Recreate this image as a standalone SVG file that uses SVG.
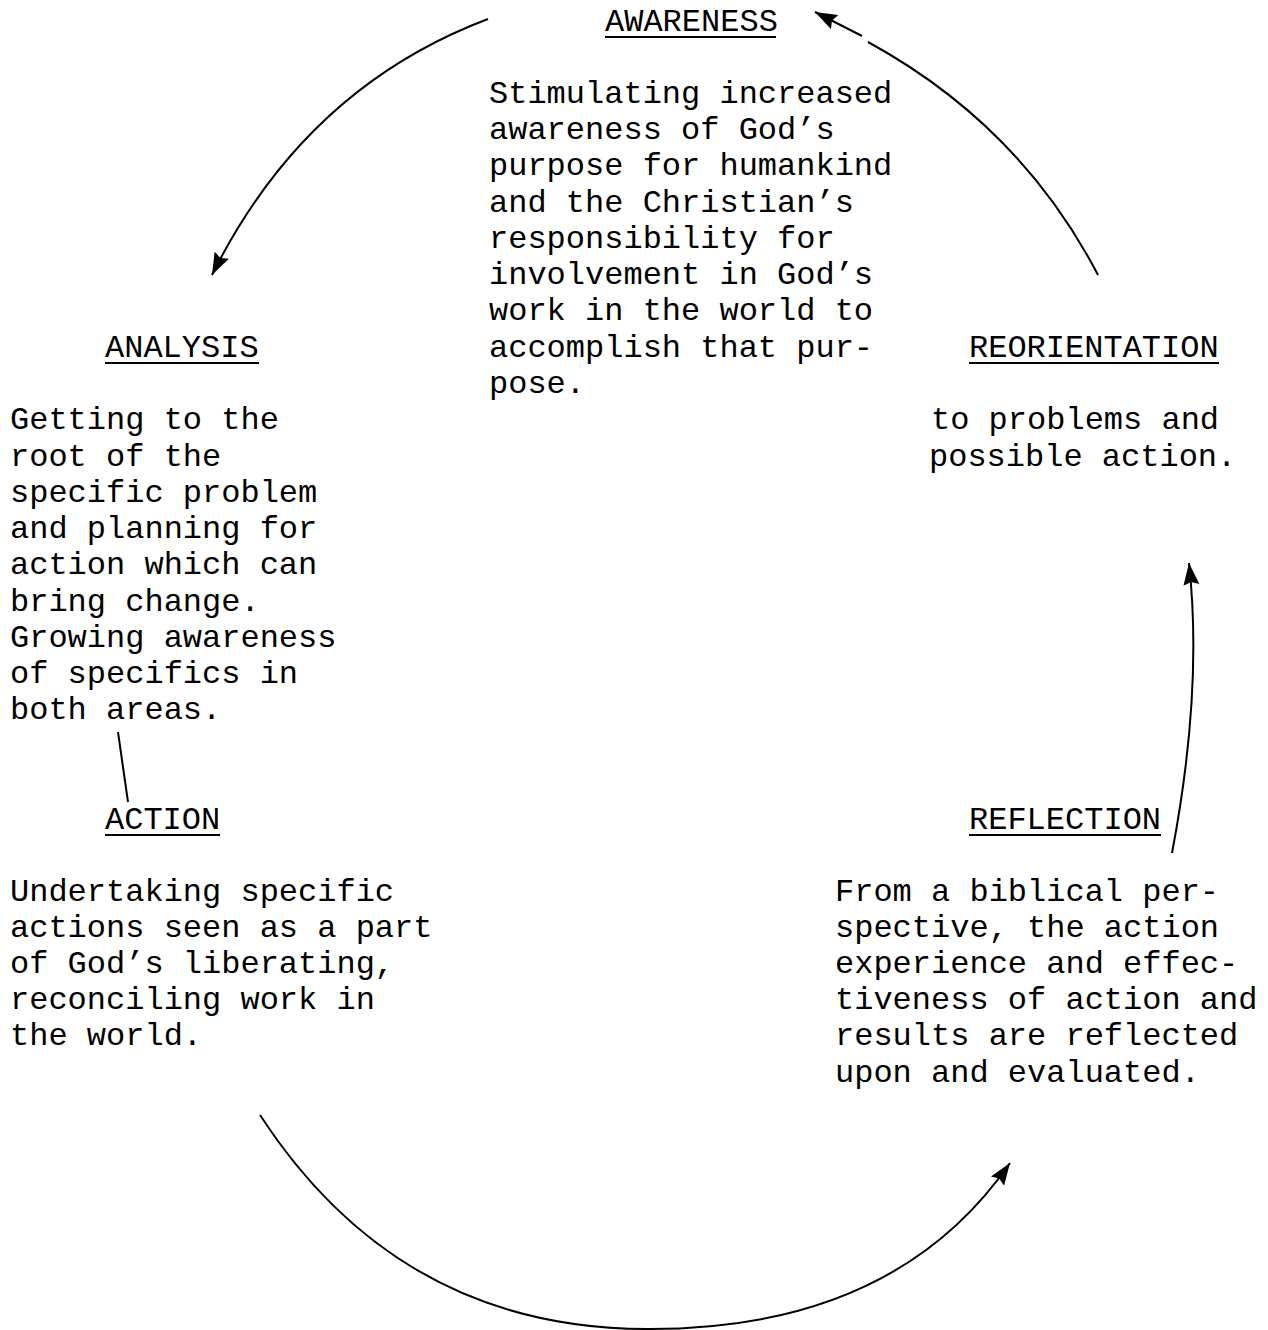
<svg xmlns="http://www.w3.org/2000/svg" width="1268" height="1330" viewBox="0 0 1268 1330">
<defs>
<style>
text { font-family: "Liberation Mono", "Courier New", monospace; font-size: 32px; fill: #000; }
.ul { stroke: #000; stroke-width: 2; }
.conn { fill: none; stroke: #000; stroke-width: 2; }
</style>
<marker id="arr" markerUnits="userSpaceOnUse" markerWidth="26" markerHeight="18" refX="22" refY="8" orient="auto">
<path d="M0,0 L22,8 L0,16 L3,8 Z" fill="#000"/>
</marker>
</defs>
<rect width="1268" height="1330" fill="#fff"/>
<g id="connectors">
<path class="conn" d="M488,19 Q305,88 212,275" marker-end="url(#arr)"/>
<path class="conn" d="M1098,275 Q1020,125 868,42"/>
<path class="conn" d="M862,36 L815,12" marker-end="url(#arr)"/>
<path class="conn" d="M1172,853 Q1203,690 1189,563" marker-end="url(#arr)"/>
<path class="conn" d="M260,1115 Q400,1330 650,1329 Q895,1329 1010,1163" marker-end="url(#arr)"/>
<path class="conn" d="M118,732 L128,802"/>
</g>
<g id="awareness">
<text x="605" y="31">AWARENESS</text>
<line class="ul" x1="605" y1="37" x2="776" y2="37"/>
<text x="489" y="103">Stimulating increased</text>
<text x="489" y="139">awareness of God’s</text>
<text x="489" y="175">purpose for humankind</text>
<text x="489" y="212">and the Christian’s</text>
<text x="489" y="248">responsibility for</text>
<text x="489" y="284">involvement in God’s</text>
<text x="489" y="320">work in the world to</text>
<text x="489" y="357">accomplish that pur-</text>
<text x="489" y="393">pose.</text>
</g>
<g id="analysis">
<text x="105" y="357">ANALYSIS</text>
<line class="ul" x1="105" y1="363" x2="259" y2="363"/>
<text x="10" y="429">Getting to the</text>
<text x="10" y="466">root of the</text>
<text x="10" y="502">specific problem</text>
<text x="10" y="538">and planning for</text>
<text x="10" y="574">action which can</text>
<text x="10" y="611">bring change.</text>
<text x="10" y="647">Growing awareness</text>
<text x="10" y="683">of specifics in</text>
<text x="10" y="719">both areas.</text>
</g>
<g id="reorientation">
<text x="969" y="357">REORIENTATION</text>
<line class="ul" x1="969" y1="363" x2="1219" y2="363"/>
<text x="931" y="429">to problems and</text>
<text x="929" y="466">possible action.</text>
</g>
<g id="action">
<text x="105" y="829">ACTION</text>
<line class="ul" x1="105" y1="835" x2="220" y2="835"/>
<text x="10" y="901">Undertaking specific</text>
<text x="10" y="937">actions seen as a part</text>
<text x="10" y="973">of God’s liberating,</text>
<text x="10" y="1009">reconciling work in</text>
<text x="10" y="1045">the world.</text>
</g>
<g id="reflection">
<text x="969" y="829">REFLECTION</text>
<line class="ul" x1="969" y1="835" x2="1161" y2="835"/>
<text x="835" y="901">From a biblical per-</text>
<text x="835" y="937">spective, the action</text>
<text x="835" y="973">experience and effec-</text>
<text x="835" y="1009">tiveness of action and</text>
<text x="835" y="1045">results are reflected</text>
<text x="835" y="1082">upon and evaluated.</text>
</g>
</svg>
